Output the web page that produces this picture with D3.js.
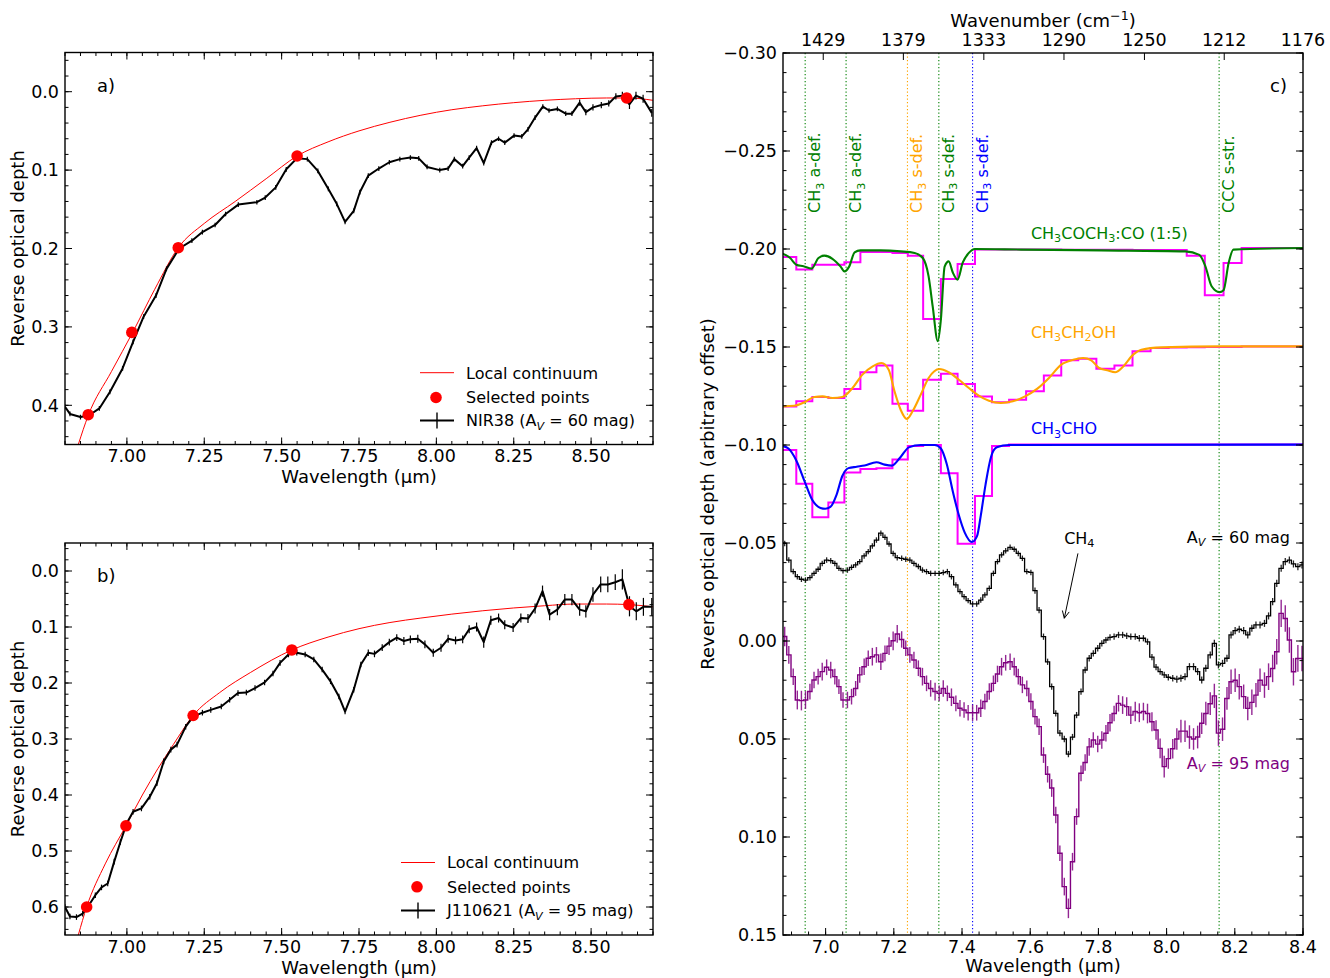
<!DOCTYPE html>
<html>
<head>
<meta charset="utf-8">
<script src="https://cdn.jsdelivr.net/npm/d3@7"></script>
<style>
  body { margin: 0; background: #fff; }
  text { font-family: "DejaVu Sans", sans-serif; }
</style>
</head>
<body>
<svg id="fig" width="1330" height="978"></svg>
<script>
// ---------------- panel a : NIR38 ----------------
var lamA = [6.800, 6.816, 6.850, 6.877, 6.911, 6.945, 6.986, 7.020, 7.054, 7.094,
            7.128, 7.169, 7.210, 7.244, 7.285, 7.319, 7.360, 7.420, 7.447, 7.481,
            7.515, 7.549, 7.583, 7.617, 7.651, 7.678, 7.705, 7.733, 7.753, 7.780,
            7.814, 7.848, 7.882, 7.916, 7.943, 7.970, 8.011, 8.038, 8.058, 8.085,
            8.106, 8.130, 8.153, 8.178, 8.201, 8.221, 8.251, 8.276, 8.296, 8.319,
            8.344, 8.364, 8.391, 8.418, 8.438, 8.463, 8.483, 8.506, 8.533, 8.557,
            8.580, 8.601, 8.624, 8.645, 8.668, 8.696];
var tauA = [0.402, 0.411, 0.415, 0.413, 0.404, 0.383, 0.353, 0.319, 0.287, 0.260,
            0.226, 0.200, 0.190, 0.179, 0.170, 0.156, 0.144, 0.141, 0.135, 0.122,
            0.099, 0.085, 0.086, 0.101, 0.124, 0.143, 0.166, 0.152, 0.128, 0.107,
            0.098, 0.090, 0.086, 0.084, 0.085, 0.096, 0.100, 0.098, 0.086, 0.095,
            0.084, 0.072, 0.091, 0.065, 0.060, 0.065, 0.056, 0.057, 0.048, 0.033,
            0.019, 0.024, 0.022, 0.028, 0.028, 0.014, 0.026, 0.020, 0.017, 0.015,
            0.006, 0.005, 0.016, 0.005, 0.009, 0.027];
var errA = [0.003, 0.003, 0.003, 0.003, 0.003, 0.003, 0.003, 0.003, 0.003, 0.003,
            0.003, 0.003, 0.003, 0.003, 0.003, 0.003, 0.003, 0.003, 0.003, 0.003,
            0.003, 0.003, 0.003, 0.003, 0.003, 0.003, 0.003, 0.003, 0.003, 0.003,
            0.003, 0.003, 0.003, 0.003, 0.003, 0.003, 0.003, 0.003, 0.003, 0.003,
            0.003, 0.003, 0.003, 0.003, 0.003, 0.003, 0.003, 0.003, 0.003, 0.003,
            0.003, 0.003, 0.003, 0.003, 0.003, 0.004, 0.004, 0.004, 0.004, 0.004,
            0.004, 0.005, 0.006, 0.005, 0.005, 0.005];
var contLamA = [6.843, 6.875, 6.950, 7.020, 7.090, 7.166, 7.250, 7.350, 7.450, 7.550,
                7.650, 7.750, 7.850, 7.950, 8.050, 8.150, 8.250, 8.350, 8.450, 8.550,
                8.620, 8.700];
var contA = [0.450, 0.413, 0.357, 0.306, 0.252, 0.199, 0.168, 0.140, 0.111, 0.082,
             0.064, 0.050, 0.039, 0.030, 0.023, 0.018, 0.014, 0.011, 0.009, 0.008,
             0.008, 0.011];
var selLamA = [6.875, 7.016, 7.166, 7.550, 8.615];
var selA = [0.412, 0.307, 0.199, 0.082, 0.008];

// ---------------- panel b : J110621 ----------------
var lamB = [6.800, 6.816, 6.837, 6.857, 6.877, 6.898, 6.918, 6.938, 6.959, 6.979,
            6.999, 7.020, 7.047, 7.074, 7.097, 7.119, 7.142, 7.162, 7.190, 7.214,
            7.244, 7.271, 7.305, 7.332, 7.359, 7.386, 7.414, 7.445, 7.472, 7.495,
            7.522, 7.549, 7.576, 7.604, 7.631, 7.658, 7.685, 7.705, 7.733, 7.756,
            7.780, 7.800, 7.825, 7.848, 7.872, 7.895, 7.916, 7.940, 7.963, 7.990,
            8.015, 8.038, 8.062, 8.085, 8.106, 8.130, 8.153, 8.176, 8.201, 8.221,
            8.248, 8.273, 8.296, 8.319, 8.343, 8.366, 8.391, 8.415, 8.438, 8.463,
            8.483, 8.506, 8.531, 8.554, 8.578, 8.601, 8.624, 8.646, 8.669, 8.696];
var tauB = [0.600, 0.617, 0.618, 0.612, 0.597, 0.579, 0.565, 0.558, 0.519, 0.484,
            0.451, 0.430, 0.424, 0.403, 0.379, 0.340, 0.319, 0.310, 0.278, 0.260,
            0.253, 0.248, 0.242, 0.230, 0.218, 0.217, 0.209, 0.199, 0.183, 0.164,
            0.149, 0.146, 0.149, 0.158, 0.176, 0.197, 0.224, 0.251, 0.212, 0.167,
            0.146, 0.148, 0.137, 0.127, 0.119, 0.125, 0.122, 0.121, 0.131, 0.146,
            0.137, 0.121, 0.124, 0.122, 0.104, 0.100, 0.127, 0.088, 0.084, 0.096,
            0.101, 0.084, 0.085, 0.067, 0.036, 0.078, 0.069, 0.051, 0.051, 0.069,
            0.072, 0.042, 0.024, 0.024, 0.020, 0.015, 0.063, 0.072, 0.064, 0.064];
var errB = [0.005, 0.005, 0.005, 0.005, 0.005, 0.005, 0.005, 0.005, 0.005, 0.005,
            0.005, 0.005, 0.005, 0.005, 0.005, 0.005, 0.005, 0.005, 0.005, 0.005,
            0.005, 0.005, 0.005, 0.005, 0.005, 0.005, 0.005, 0.005, 0.005, 0.005,
            0.005, 0.005, 0.005, 0.005, 0.005, 0.005, 0.005, 0.005, 0.005, 0.005,
            0.006, 0.006, 0.006, 0.006, 0.006, 0.007, 0.007, 0.007, 0.007, 0.007,
            0.007, 0.007, 0.007, 0.007, 0.007, 0.008, 0.010, 0.008, 0.008, 0.008,
            0.008, 0.008, 0.008, 0.009, 0.010, 0.010, 0.010, 0.010, 0.010, 0.011,
            0.011, 0.013, 0.014, 0.014, 0.014, 0.018, 0.018, 0.016, 0.016, 0.016];
var contLamB = [6.843, 6.870, 6.930, 6.997, 7.050, 7.100, 7.150, 7.214, 7.300, 7.400,
                7.533, 7.650, 7.750, 7.850, 7.950, 8.050, 8.150, 8.250, 8.350, 8.450,
                8.550, 8.622, 8.700];
var contB = [0.650, 0.600, 0.523, 0.455, 0.400, 0.353, 0.310, 0.258, 0.217, 0.181,
             0.141, 0.118, 0.103, 0.092, 0.084, 0.077, 0.071, 0.066, 0.062, 0.059,
             0.059, 0.060, 0.064];
var selLamB = [6.870, 6.997, 7.214, 7.533, 8.622];
var selB = [0.600, 0.455, 0.258, 0.141, 0.060];

// ---------------- panel c ----------------
var lamC = [6.880, 6.892, 6.905, 6.917, 6.929, 6.941, 6.954, 6.966, 6.978, 6.990,
            7.003, 7.015, 7.027, 7.039, 7.051, 7.064, 7.076, 7.088, 7.100, 7.113,
            7.125, 7.137, 7.149, 7.162, 7.174, 7.186, 7.198, 7.210, 7.223, 7.235,
            7.247, 7.259, 7.272, 7.284, 7.296, 7.308, 7.321, 7.333, 7.345, 7.357,
            7.369, 7.382, 7.394, 7.406, 7.418, 7.431, 7.443, 7.455, 7.467, 7.480,
            7.492, 7.504, 7.516, 7.528, 7.541, 7.553, 7.565, 7.577, 7.590, 7.602,
            7.614, 7.626, 7.639, 7.651, 7.663, 7.675, 7.687, 7.700, 7.712, 7.724,
            7.736, 7.749, 7.761, 7.773, 7.785, 7.798, 7.810, 7.822, 7.834, 7.846,
            7.859, 7.871, 7.883, 7.895, 7.908, 7.920, 7.932, 7.944, 7.957, 7.969,
            7.981, 7.993, 8.005, 8.018, 8.030, 8.042, 8.054, 8.067, 8.079, 8.091,
            8.103, 8.115, 8.128, 8.140, 8.152, 8.164, 8.177, 8.189, 8.201, 8.213,
            8.226, 8.238, 8.250, 8.262, 8.274, 8.287, 8.299, 8.311, 8.323, 8.336,
            8.348, 8.360, 8.372, 8.385, 8.397];
var av60 = [-0.0498, -0.0413, -0.0354, -0.0328, -0.0315, -0.0311, -0.0323, -0.0345, -0.0366, -0.0396,
            -0.0413, -0.0410, -0.0396, -0.0371, -0.0359, -0.0362, -0.0376, -0.0388, -0.0405, -0.0434,
            -0.0456, -0.0485, -0.0515, -0.0550, -0.0529, -0.0495, -0.0447, -0.0425, -0.0422, -0.0417,
            -0.0413, -0.0396, -0.0380, -0.0362, -0.0354, -0.0345, -0.0345, -0.0345, -0.0349, -0.0354,
            -0.0328, -0.0286, -0.0252, -0.0226, -0.0206, -0.0189, -0.0189, -0.0209, -0.0235, -0.0269,
            -0.0345, -0.0405, -0.0439, -0.0460, -0.0478, -0.0468, -0.0447, -0.0422, -0.0354, -0.0350,
            -0.0257, -0.0158, -0.0022, 0.0106, 0.0233, 0.0369, 0.0470, 0.0500, 0.0577, 0.0490,
            0.0378, 0.0258, 0.0148, 0.0088, 0.0063, 0.0037, 0.0012, -0.0005, -0.0019, -0.0022,
            -0.0031, -0.0031, -0.0026, -0.0022, -0.0022, -0.0014, -0.0014, 0.0004, 0.0082, 0.0133,
            0.0156, 0.0173, 0.0185, 0.0190, 0.0195, 0.0190, 0.0182, 0.0131, 0.0131, 0.0156,
            0.0199, 0.0139, 0.0071, 0.0012, 0.0122, 0.0114, 0.0088, -0.0031, -0.0053, -0.0060,
            -0.0053, -0.0031, -0.0065, -0.0082, -0.0082, -0.0090, -0.0128, -0.0201, -0.0294, -0.0371,
            -0.0405, -0.0413, -0.0393, -0.0379, -0.0388];
var av60Err = [0.0014, 0.0014, 0.0014, 0.0014, 0.0014, 0.0014, 0.0014, 0.0014, 0.0014, 0.0014,
               0.0014, 0.0014, 0.0014, 0.0014, 0.0014, 0.0014, 0.0014, 0.0014, 0.0014, 0.0014,
               0.0014, 0.0014, 0.0014, 0.0014, 0.0014, 0.0014, 0.0014, 0.0014, 0.0014, 0.0014,
               0.0014, 0.0014, 0.0014, 0.0014, 0.0014, 0.0014, 0.0014, 0.0014, 0.0014, 0.0014,
               0.0014, 0.0014, 0.0014, 0.0014, 0.0014, 0.0014, 0.0014, 0.0014, 0.0014, 0.0014,
               0.0014, 0.0014, 0.0014, 0.0014, 0.0014, 0.0014, 0.0014, 0.0014, 0.0014, 0.0014,
               0.0016, 0.0016, 0.0016, 0.0016, 0.0016, 0.0016, 0.0016, 0.0016, 0.0016, 0.0016,
               0.0016, 0.0016, 0.0016, 0.0016, 0.0016, 0.0016, 0.0016, 0.0016, 0.0016, 0.0016,
               0.0016, 0.0016, 0.0016, 0.0016, 0.0016, 0.0016, 0.0016, 0.0016, 0.0016, 0.0016,
               0.0016, 0.0016, 0.0016, 0.0016, 0.0018, 0.0018, 0.0018, 0.0018, 0.0018, 0.0018,
               0.0018, 0.0018, 0.0018, 0.0018, 0.0018, 0.0018, 0.0018, 0.0018, 0.0018, 0.0018,
               0.0018, 0.0018, 0.0018, 0.0018, 0.0018, 0.0018, 0.0018, 0.0018, 0.0018, 0.0018,
               0.0018, 0.0018, 0.0018, 0.0018, 0.0018];
var av95 = [-0.0023, 0.0071, 0.0182, 0.0301, 0.0304, 0.0301, 0.0258, 0.0199, 0.0182, 0.0156,
            0.0134, 0.0148, 0.0182, 0.0233, 0.0301, 0.0301, 0.0284, 0.0242, 0.0173, 0.0131,
            0.0088, 0.0080, 0.0071, 0.0106, 0.0063, 0.0026, -0.0001, -0.0036, -0.0008, 0.0037,
            0.0071, 0.0097, 0.0139, 0.0182, 0.0216, 0.0242, 0.0258, 0.0267, 0.0242, 0.0267,
            0.0287, 0.0318, 0.0343, 0.0352, 0.0366, 0.0366, 0.0366, 0.0343, 0.0309, 0.0258,
            0.0216, 0.0168, 0.0131, 0.0111, 0.0106, 0.0131, 0.0182, 0.0224, 0.0242, 0.0309,
            0.0386, 0.0437, 0.0582, 0.0680, 0.0750, 0.0888, 0.1083, 0.1253, 0.1364, 0.1126,
            0.0896, 0.0675, 0.0620, 0.0540, 0.0505, 0.0526, 0.0505, 0.0471, 0.0417, 0.0370,
            0.0318, 0.0327, 0.0335, 0.0378, 0.0360, 0.0366, 0.0360, 0.0370, 0.0412, 0.0454,
            0.0548, 0.0641, 0.0600, 0.0550, 0.0500, 0.0460, 0.0460, 0.0490, 0.0500, 0.0490,
            0.0420, 0.0370, 0.0320, 0.0280, 0.0470, 0.0450, 0.0293, 0.0208, 0.0200, 0.0233,
            0.0284, 0.0344, 0.0313, 0.0276, 0.0200, 0.0225, 0.0182, 0.0140, 0.0055, -0.0141,
            -0.0115, -0.0005, 0.0157, 0.0089, 0.0089];
var av95Err = [0.0050, 0.0045, 0.0042, 0.0048, 0.0050, 0.0045, 0.0040, 0.0042, 0.0040, 0.0045,
               0.0040, 0.0042, 0.0040, 0.0038, 0.0040, 0.0042, 0.0040, 0.0038, 0.0040, 0.0042,
               0.0040, 0.0045, 0.0040, 0.0042, 0.0040, 0.0045, 0.0048, 0.0045, 0.0042, 0.0040,
               0.0040, 0.0042, 0.0040, 0.0045, 0.0040, 0.0042, 0.0045, 0.0040, 0.0042, 0.0040,
               0.0045, 0.0040, 0.0042, 0.0040, 0.0040, 0.0042, 0.0040, 0.0045, 0.0040, 0.0042,
               0.0040, 0.0042, 0.0045, 0.0040, 0.0042, 0.0045, 0.0040, 0.0042, 0.0040, 0.0042,
               0.0040, 0.0042, 0.0040, 0.0042, 0.0045, 0.0042, 0.0040, 0.0045, 0.0050, 0.0045,
               0.0042, 0.0040, 0.0042, 0.0045, 0.0040, 0.0042, 0.0045, 0.0042, 0.0045, 0.0040,
               0.0042, 0.0045, 0.0048, 0.0045, 0.0050, 0.0048, 0.0045, 0.0050, 0.0048, 0.0050,
               0.0050, 0.0055, 0.0052, 0.0050, 0.0055, 0.0058, 0.0055, 0.0060, 0.0055, 0.0058,
               0.0055, 0.0060, 0.0058, 0.0062, 0.0065, 0.0060, 0.0058, 0.0062, 0.0060, 0.0065,
               0.0062, 0.0060, 0.0065, 0.0062, 0.0060, 0.0065, 0.0068, 0.0070, 0.0065, 0.0070,
               0.0068, 0.0065, 0.0070, 0.0068, 0.0065];

// binned lab spectra (magenta steps), values per bin between consecutive edges
var binEdges = [6.873, 6.914, 6.961, 7.008, 7.055, 7.102, 7.149, 7.196, 7.241, 7.286,
                7.338, 7.387, 7.438, 7.488, 7.538, 7.588, 7.640, 7.691, 7.741, 7.794,
                7.847, 7.900, 7.953, 8.006, 8.059, 8.112, 8.167, 8.220, 8.275, 8.329,
                8.385, 8.400];
var acetoneBin = [-0.1959, -0.1895, -0.1920, -0.1920, -0.1932, -0.1985, -0.1985, -0.1980, -0.1966, -0.1643,
                  -0.1847, -0.1923, -0.1998, -0.1997, -0.1997, -0.1997, -0.1997, -0.1996, -0.1996, -0.1996,
                  -0.1996, -0.1995, -0.1995, -0.1995, -0.1966, -0.1764, -0.1929, -0.2005, -0.2005, -0.2005,
                  -0.2005];
var ethanolBin = [-0.1197, -0.1223, -0.1245, -0.1240, -0.1286, -0.1371, -0.1406, -0.1211, -0.1175, -0.1333,
                  -0.1364, -0.1311, -0.1248, -0.1218, -0.1231, -0.1274, -0.1355, -0.1432, -0.1440, -0.1389,
                  -0.1406, -0.1478, -0.1495, -0.1497, -0.1499, -0.1500, -0.1500, -0.1502, -0.1503, -0.1503,
                  -0.1503];
var acetaldBin = [-0.0974, -0.0802, -0.0632, -0.0707, -0.0860, -0.0877, -0.0882, -0.0926, -0.0995, -0.1000,
                  -0.0856, -0.0496, -0.0740, -0.0995, -0.1002, -0.1002, -0.1002, -0.1002, -0.1002, -0.1002,
                  -0.1002, -0.1002, -0.1002, -0.1002, -0.1002, -0.1002, -0.1002, -0.1002, -0.1002, -0.1002,
                  -0.1002];

// lab spectra, full resolution
var acetoneLam = [6.873, 6.896, 6.914, 6.935, 6.959, 6.979, 6.996, 7.020, 7.044, 7.055,
                  7.069, 7.085, 7.102, 7.161, 7.220, 7.261, 7.285, 7.302, 7.314, 7.329,
                  7.338, 7.349, 7.361, 7.373, 7.387, 7.402, 7.420, 7.438, 7.573, 7.808,
                  8.055, 8.096, 8.114, 8.132, 8.155, 8.167, 8.182, 8.196, 8.400];
var acetoneTau = [-0.1976, -0.1954, -0.1920, -0.1912, -0.1900, -0.1954, -0.1966, -0.1950, -0.1910, -0.1886,
                  -0.1910, -0.1983, -0.1993, -0.1993, -0.1988, -0.1980, -0.1954, -0.1860, -0.1707, -0.1529,
                  -0.1640, -0.1910, -0.1937, -0.1880, -0.1844, -0.1930, -0.1980, -0.2000, -0.1997, -0.1993,
                  -0.1988, -0.1970, -0.1910, -0.1810, -0.1780, -0.1790, -0.1930, -0.1997, -0.2005];
var ethanolLam = [6.873, 6.908, 6.938, 6.967, 6.991, 7.020, 7.049, 7.079, 7.108, 7.138,
                  7.164, 7.185, 7.202, 7.220, 7.238, 7.255, 7.279, 7.302, 7.334, 7.361,
                  7.391, 7.420, 7.449, 7.479, 7.514, 7.549, 7.585, 7.620, 7.655, 7.691,
                  7.726, 7.755, 7.779, 7.802, 7.826, 7.849, 7.873, 7.902, 7.926, 7.985,
                  8.161, 8.400];
var ethanolTau = [-0.1197, -0.1200, -0.1218, -0.1245, -0.1248, -0.1240, -0.1245, -0.1291, -0.1359, -0.1401,
                  -0.1418, -0.1384, -0.1274, -0.1180, -0.1133, -0.1172, -0.1257, -0.1342, -0.1388, -0.1371,
                  -0.1333, -0.1291, -0.1252, -0.1226, -0.1214, -0.1223, -0.1248, -0.1286, -0.1342, -0.1410,
                  -0.1435, -0.1444, -0.1432, -0.1393, -0.1381, -0.1371, -0.1401, -0.1461, -0.1486, -0.1498,
                  -0.1503, -0.1503];
var acetaldLam = [6.873, 6.891, 6.914, 6.938, 6.961, 6.985, 6.999, 7.014, 7.032, 7.049,
                  7.067, 7.091, 7.114, 7.149, 7.173, 7.194, 7.220, 7.244, 7.279, 7.320,
                  7.338, 7.355, 7.373, 7.391, 7.408, 7.429, 7.444, 7.455, 7.469, 7.485,
                  7.502, 7.538, 8.400];
var acetaldTau = [-0.0995, -0.0982, -0.0921, -0.0816, -0.0719, -0.0679, -0.0675, -0.0684, -0.0746, -0.0842,
                  -0.0882, -0.0889, -0.0895, -0.0912, -0.0900, -0.0895, -0.0939, -0.0988, -0.1000, -0.1000,
                  -0.0982, -0.0904, -0.0763, -0.0640, -0.0553, -0.0505, -0.0535, -0.0640, -0.0798, -0.0939,
                  -0.0988, -0.1000, -0.1002];

// band positions
var bandLam = [6.940, 7.060, 7.240, 7.332, 7.431, 8.154];
var bandColor = ["green", "green", "orange", "green", "blue", "green"];
var bandText = ["CH_3 a-def.", "CH_3 a-def.", "CH_3 s-def.", "CH_3 s-def.", "CH_3 s-def.", "CCC s-str."];

// top axis (wavenumber)
var topTickLam = [6.993, 7.228, 7.464, 7.699, 7.935, 8.169, 8.400];
var topTickLabel = ["1429", "1379", "1333", "1290", "1250", "1212", "1176"];

// ---------------- drawing ----------------
var svg = d3.select("#fig");
var defs = svg.append("defs");
svg.append("rect").attr("width", 1330).attr("height", 978).attr("fill", "#fff");

var TICK = 17.5, LAB = 18, LEG = 16;

// text with _x / _{..} subscripts and ^{..} superscripts
function rich(t, str, size) {
  var parts = str.split(/(_\{[^}]*\}|_[^{]|\^\{[^}]*\})/).filter(function (s) { return s.length; });
  var shift = 0;
  parts.forEach(function (p) {
    var sp = t.append("tspan"), dy = 0, s;
    if (p[0] === "_") {
      s = p[1] === "{" ? p.slice(2, -1) : p.slice(1);
      dy = size * 0.22 - shift; shift = size * 0.22;
      sp.attr("font-size", size * 0.7).text(s);
      if (/^[A-Za-z]+$/.test(s)) sp.attr("font-style", "italic");
    } else if (p[0] === "^") {
      s = p.slice(2, -1);
      dy = -size * 0.38 - shift; shift = -size * 0.38;
      sp.attr("font-size", size * 0.7).text(s);
    } else {
      dy = -shift; shift = 0;
      sp.text(p);
    }
    if (dy) sp.attr("dy", dy);
  });
  return t;
}

function makePanel(id, box, xdom, ydom) {
  var x = d3.scaleLinear().domain(xdom).range([box.x0, box.x1]);
  var y = d3.scaleLinear().domain(ydom).range([box.y0, box.y1]);
  defs.append("clipPath").attr("id", id).append("rect")
    .attr("x", box.x0).attr("y", box.y0)
    .attr("width", box.x1 - box.x0).attr("height", box.y1 - box.y0);
  var g = svg.append("g");
  var plot = g.append("g").attr("clip-path", "url(#" + id + ")");
  return { x: x, y: y, g: g, plot: plot, box: box };
}

function frame(p) {
  var b = p.box;
  p.g.append("rect").attr("x", b.x0).attr("y", b.y0)
    .attr("width", b.x1 - b.x0).attr("height", b.y1 - b.y0)
    .attr("fill", "none").attr("stroke", "#000").attr("stroke-width", 1.4);
}

function ticks(p, o) {
  var b = p.box;
  var tg = p.g.append("g").attr("stroke", "#000").attr("stroke-width", 1);
  function seg(x1, y1, x2, y2) {
    tg.append("line").attr("x1", x1).attr("y1", y1).attr("x2", x2).attr("y2", y2);
  }
  o.xMin.forEach(function (v) {
    var X = p.x(v); seg(X, b.y1, X, b.y1 - 3.5); if (o.topX) seg(X, b.y0, X, b.y0 + 3.5);
  });
  o.xMaj.forEach(function (v) {
    var X = p.x(v); seg(X, b.y1, X, b.y1 - 7); if (o.topX) seg(X, b.y0, X, b.y0 + 7);
  });
  o.yMin.forEach(function (v) {
    var Y = p.y(v); seg(b.x0, Y, b.x0 + 3.5, Y); seg(b.x1, Y, b.x1 - 3.5, Y);
  });
  o.yMaj.forEach(function (v) {
    var Y = p.y(v); seg(b.x0, Y, b.x0 + 7, Y); seg(b.x1, Y, b.x1 - 7, Y);
  });
  o.xMaj.forEach(function (v) {
    p.g.append("text").attr("x", p.x(v)).attr("y", b.y1 + 17.5)
      .attr("text-anchor", "middle").attr("font-size", TICK).text(o.xFmt(v));
  });
  o.yMaj.forEach(function (v) {
    p.g.append("text").attr("x", b.x0 - 6).attr("y", p.y(v) + 6.3)
      .attr("text-anchor", "end").attr("font-size", TICK).text(o.yFmt(v));
  });
}

function lineGen(p, curve) {
  return d3.line().x(function (d) { return p.x(d[0]); }).y(function (d) { return p.y(d[1]); })
    .curve(curve || d3.curveLinear);
}

function zip(a, b) { return a.map(function (v, i) { return [v, b[i]]; }); }

// spectrum panels a) and b)
function spectrumPanel(id, box, ydom, yMaj, yMinN, lam, tau, err, cLam, cTau, sLam, sTau,
                       tag, legX, legY, srcText) {
  var p = makePanel(id, box, [6.8, 8.7], ydom);
  p.plot.append("path").datum(zip(cLam, cTau))
    .attr("d", lineGen(p, d3.curveMonotoneX)).attr("fill", "none")
    .attr("stroke", "red").attr("stroke-width", 1);
  p.plot.append("path").datum(zip(lam, tau))
    .attr("d", lineGen(p)).attr("fill", "none").attr("stroke", "#000").attr("stroke-width", 2)
    .attr("stroke-linejoin", "round");
  p.plot.append("g").attr("stroke", "#000").attr("stroke-width", 1.2)
    .selectAll("line").data(lam).join("line")
    .attr("x1", function (d) { return p.x(d); }).attr("x2", function (d) { return p.x(d); })
    .attr("y1", function (d, i) { return p.y(tau[i] - err[i]); })
    .attr("y2", function (d, i) { return p.y(tau[i] + err[i]); });
  p.plot.append("g").selectAll("circle").data(sLam).join("circle")
    .attr("cx", function (d) { return p.x(d); })
    .attr("cy", function (d, i) { return p.y(sTau[i]); })
    .attr("r", 5.8).attr("fill", "red");
  frame(p);
  ticks(p, {
    xMaj: [7.0, 7.25, 7.5, 7.75, 8.0, 8.25, 8.5],
    xMin: d3.range(136, 175).map(function (i) { return i / 20; }),
    yMaj: yMaj,
    yMin: d3.range(-2, yMinN).map(function (i) { return i / 50; }),
    xFmt: d3.format(".2f"), yFmt: d3.format(".1f"), topX: true
  });
  p.g.append("text").attr("x", 97).attr("y", box.y0 + 39).attr("font-size", LAB).text(tag);
  p.g.append("text").attr("x", (box.x0 + box.x1) / 2).attr("y", box.y1 + 38.5)
    .attr("text-anchor", "middle").attr("font-size", LAB).text("Wavelength (\u00b5m)");
  p.g.append("text")
    .attr("transform", "translate(24," + (box.y0 + box.y1) / 2 + ") rotate(-90)")
    .attr("text-anchor", "middle").attr("font-size", LAB).text("Reverse optical depth");
  // legend
  var lg = p.g.append("g");
  lg.append("line").attr("x1", legX).attr("x2", legX + 34).attr("y1", legY[0]).attr("y2", legY[0])
    .attr("stroke", "red").attr("stroke-width", 1);
  lg.append("circle").attr("cx", legX + 16).attr("cy", legY[1]).attr("r", 5.8).attr("fill", "red");
  lg.append("line").attr("x1", legX).attr("x2", legX + 34).attr("y1", legY[2]).attr("y2", legY[2])
    .attr("stroke", "#000").attr("stroke-width", 2);
  lg.append("line").attr("x1", legX + 17).attr("x2", legX + 17).attr("y1", legY[2] - 8).attr("y2", legY[2] + 8)
    .attr("stroke", "#000").attr("stroke-width", 1.4);
  var labels = ["Local continuum", "Selected points", srcText];
  labels.forEach(function (s, i) {
    rich(lg.append("text").attr("x", legX + 46).attr("y", legY[i] + 5.8).attr("font-size", LEG), s, LEG);
  });
  return p;
}

spectrumPanel("clipA", { x0: 65, x1: 653, y0: 52.5, y1: 444.5 }, [-0.05, 0.45],
  [0, 0.1, 0.2, 0.3, 0.4], 23, lamA, tauA, errA, contLamA, contA, selLamA, selA,
  "a)", 420, [372.7, 397.5, 420.5], "NIR38 (A_{V} = 60 mag)");
spectrumPanel("clipB", { x0: 65, x1: 653, y0: 543, y1: 935 }, [-0.05, 0.65],
  [0, 0.1, 0.2, 0.3, 0.4, 0.5, 0.6], 33, lamB, tauB, errB, contLamB, contB, selLamB, selB,
  "b)", 401, [862.5, 886.8, 910.5], "J110621 (A_{V} = 95 mag)");

// panel c)
var PC = { x0: 783, x1: 1303, y0: 53, y1: 935 };
var pc = makePanel("clipC", PC, [6.875, 8.40], [-0.30, 0.15]);

bandLam.forEach(function (l, i) {
  pc.plot.append("line").attr("x1", pc.x(l)).attr("x2", pc.x(l)).attr("y1", PC.y0).attr("y2", PC.y1)
    .attr("stroke", bandColor[i]).attr("stroke-width", 1.1).attr("stroke-dasharray", "1.3,2.2");
  var t = pc.g.append("text")
    .attr("transform", "translate(" + (pc.x(l) + 15) + "," + pc.y(-0.2184) + ") rotate(-90)")
    .attr("fill", bandColor[i]).attr("font-size", LEG);
  rich(t, bandText[i], LEG);
});

function binSteps(vals) {
  var pts = vals.map(function (v, i) { return [binEdges[i], v]; });
  pts.push([binEdges[binEdges.length - 1], vals[vals.length - 1]]);
  return pts;
}
[acetoneBin, ethanolBin, acetaldBin].forEach(function (vals) {
  pc.plot.append("path").datum(binSteps(vals))
    .attr("d", lineGen(pc, d3.curveStepAfter)).attr("fill", "none")
    .attr("stroke", "magenta").attr("stroke-width", 2);
});

[[acetoneLam, acetoneTau, "green"], [ethanolLam, ethanolTau, "orange"], [acetaldLam, acetaldTau, "blue"]]
  .forEach(function (m) {
    pc.plot.append("path").datum(zip(m[0], m[1]))
      .attr("d", lineGen(pc, d3.curveMonotoneX)).attr("fill", "none")
      .attr("stroke", m[2]).attr("stroke-width", 2.1);
  });

function stepSpectrum(vals, errs, color, lw) {
  var pts = zip(lamC, vals);
  pts.unshift([pc.x.domain()[0], vals[0]]);
  pts.push([pc.x.domain()[1], vals[vals.length - 1]]);
  pc.plot.append("g").attr("stroke", color).attr("stroke-width", lw).attr("stroke-opacity", 0.85)
    .selectAll("line").data(lamC).join("line")
    .attr("x1", function (d) { return pc.x(d); }).attr("x2", function (d) { return pc.x(d); })
    .attr("y1", function (d, i) { return pc.y(vals[i] - errs[i]); })
    .attr("y2", function (d, i) { return pc.y(vals[i] + errs[i]); });
  pc.plot.append("path").datum(pts)
    .attr("d", lineGen(pc, d3.curveStep)).attr("fill", "none")
    .attr("stroke", color).attr("stroke-width", lw);
}
stepSpectrum(av95, av95Err, "purple", 1.4);
stepSpectrum(av60, av60Err, "#000", 1.3);

frame(pc);
ticks(pc, {
  xMaj: d3.range(35, 43).map(function (i) { return i / 5; }),
  xMin: d3.range(138, 169).map(function (i) { return i / 20; }),
  yMaj: d3.range(-6, 4).map(function (i) { return i / 20; }),
  yMin: d3.range(-30, 16).map(function (i) { return i / 100; }),
  xFmt: d3.format(".1f"), yFmt: d3.format(".2f"), topX: false
});
// top wavenumber axis
topTickLam.forEach(function (l, i) {
  pc.g.append("line").attr("x1", pc.x(l)).attr("x2", pc.x(l)).attr("y1", PC.y0).attr("y2", PC.y0 + 7)
    .attr("stroke", "#000").attr("stroke-width", 1);
  pc.g.append("text").attr("x", pc.x(l)).attr("y", PC.y0 - 7)
    .attr("text-anchor", "middle").attr("font-size", TICK).text(topTickLabel[i]);
});
rich(pc.g.append("text").attr("x", (PC.x0 + PC.x1) / 2).attr("y", 27)
  .attr("text-anchor", "middle").attr("font-size", LAB), "Wavenumber (cm^{\u22121})", LAB);
pc.g.append("text").attr("x", (PC.x0 + PC.x1) / 2).attr("y", 972)
  .attr("text-anchor", "middle").attr("font-size", LAB).text("Wavelength (\u00b5m)");
pc.g.append("text")
  .attr("transform", "translate(714," + (PC.y0 + PC.y1) / 2 + ") rotate(-90)")
  .attr("text-anchor", "middle").attr("font-size", LAB).text("Reverse optical depth (arbitrary offset)");
pc.g.append("text").attr("x", 1270).attr("y", 92).attr("font-size", LAB).text("c)");

// annotations
rich(pc.g.append("text").attr("x", pc.x(7.602)).attr("y", pc.y(-0.2082) + 5.8)
  .attr("font-size", LEG).attr("fill", "green"), "CH_3COCH_3:CO (1:5)", LEG);
rich(pc.g.append("text").attr("x", pc.x(7.602)).attr("y", pc.y(-0.1578) + 5.8)
  .attr("font-size", LEG).attr("fill", "orange"), "CH_3CH_2OH", LEG);
rich(pc.g.append("text").attr("x", pc.x(7.602)).attr("y", pc.y(-0.1085) + 5.8)
  .attr("font-size", LEG).attr("fill", "blue"), "CH_3CHO", LEG);
rich(pc.g.append("text").attr("x", pc.x(7.744)).attr("y", pc.y(-0.0526) + 5.8)
  .attr("text-anchor", "middle").attr("font-size", LEG), "CH_4", LEG);
rich(pc.g.append("text").attr("x", pc.x(8.362)).attr("y", pc.y(-0.0531) + 5.8)
  .attr("text-anchor", "end").attr("font-size", LEG), "A_{V} = 60 mag", LEG);
rich(pc.g.append("text").attr("x", pc.x(8.362)).attr("y", pc.y(0.0622) + 5.8)
  .attr("text-anchor", "end").attr("font-size", LEG).attr("fill", "purple"), "A_{V} = 95 mag", LEG);

// CH4 arrow
var a0 = [pc.x(7.740), pc.y(-0.0447)], a1 = [pc.x(7.700), pc.y(-0.0116)];
var ang = Math.atan2(a1[1] - a0[1], a1[0] - a0[0]);
pc.g.append("line").attr("x1", a0[0]).attr("y1", a0[1]).attr("x2", a1[0]).attr("y2", a1[1])
  .attr("stroke", "#000").attr("stroke-width", 1);
[0.45, -0.45].forEach(function (da) {
  pc.g.append("line").attr("x1", a1[0]).attr("y1", a1[1])
    .attr("x2", a1[0] - 8 * Math.cos(ang + da)).attr("y2", a1[1] - 8 * Math.sin(ang + da))
    .attr("stroke", "#000").attr("stroke-width", 1);
});
</script>
</body>
</html>
